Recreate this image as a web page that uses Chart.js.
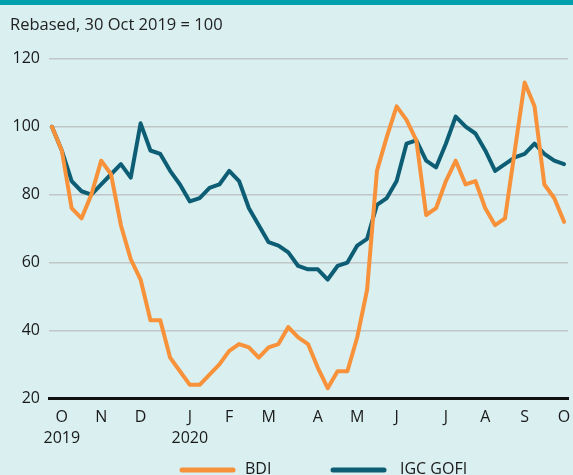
<!DOCTYPE html>
<html>
<head>
<meta charset="utf-8">
<script src="https://cdn.jsdelivr.net/npm/chart.js@4/dist/chart.umd.min.js"></script>
<style>
  html, body { margin: 0; padding: 0; background: #d9eff0; }
  #wrap { width: 573px; height: 470px; border-top: 5px solid #00a0ae; position: relative; }
</style>
</head>
<body>
<div id="wrap"><canvas id="myChart"></canvas></div>
<script>
// weekly readings, 30 Oct 2019 = 100 (week 0) to end Oct 2020 (week 52)
const bdi = [100, 93, 76, 73, 80, 90, 86, 71, 61, 55, 43, 43, 32, 28, 24, 24, 27, 30, 34, 36,
  35, 32, 35, 36, 41, 38, 36, 29, 23, 28, 28, 38, 52, 87, 97, 106, 102, 96, 74, 76,
  84, 90, 83, 84, 76, 71, 73, 93, 113, 106, 83, 79, 72];
const igcGofi = [100, 93, 84, 81, 80, 83, 86, 89, 85, 101, 93, 92, 87, 83, 78, 79, 82, 83, 87, 84,
  76, 71, 66, 65, 63, 59, 58, 58, 55, 59, 60, 65, 67, 77, 79, 84, 95, 96, 90, 88,
  95, 103, 100, 98, 93, 87, 89, 91, 92, 95, 92, 90, 89];
const seriesNames = ['BDI', 'IGC GOFI'];

// month ticks: week index where each month label sits
const monthWeeks = [1, 5, 9, 14, 18, 22, 27, 31, 35, 40, 44, 48, 52];
const monthLabels = [['O', '2019'], 'N', 'D', ['J', '2020'], 'F', 'M', 'A', 'M', 'J', 'J', 'A', 'S', 'O'];
const yTicks = [20, 40, 60, 80, 100, 120];

const ORANGE = '#f7923a';
const BLUE = '#0d5e75';
const FONT = "'Open Sans', sans-serif";

const toPoints = arr => arr.map((v, i) => ({x: i, y: v}));

// legend drawn under the axis labels
const bottomLegend = {
  id: 'bottomLegend',
  afterDraw(chart) {
    const ctx = chart.ctx;
    const items = [{x: 182, tx: 245}, {x: 333, tx: 400}];
    ctx.save();
    chart.data.datasets.forEach((ds, i) => {
      const it = items[i];
      ctx.strokeStyle = ds.borderColor;
      ctx.lineWidth = 5;
      ctx.lineCap = 'round';
      ctx.beginPath();
      ctx.moveTo(it.x, 465);
      ctx.lineTo(it.x + 51, 465);
      ctx.stroke();
      ctx.fillStyle = '#1a1a1a';
      ctx.font = '16px ' + FONT;
      ctx.textBaseline = 'middle';
      ctx.fillText(ds.label, it.tx, 464);
    });
    ctx.restore();
  }
};

const ctxt = document.getElementById('myChart').getContext('2d');

const myChart = new Chart(ctxt, {
  type: 'line',
  data: {
    datasets: [
      {label: seriesNames[0], data: toPoints(bdi), borderColor: ORANGE, borderWidth: 4},
      {label: seriesNames[1], data: toPoints(igcGofi), borderColor: BLUE, borderWidth: 4}
    ]
  },
  options: {
    responsive: true,
    maintainAspectRatio: false,
    animation: false,
    layout: {padding: {left: 10, right: 5, top: 0, bottom: 17}},
    elements: {
      point: {radius: 0},
      line: {tension: 0, borderJoinStyle: 'round', borderCapStyle: 'round'}
    },
    plugins: {
      legend: {display: false},
      tooltip: {enabled: false},
      title: {
        display: true,
        text: 'Rebased, 30 Oct 2019 = 100',
        align: 'start',
        color: '#222',
        font: {family: FONT, size: 16.5, weight: 'normal'},
        padding: {top: 10, bottom: 24}
      }
    },
    scales: {
      x: {
        type: 'linear',
        min: -0.3,
        max: 52.4,
        grid: {display: false, drawTicks: false},
        border: {display: true, color: '#111', width: 3},
        afterBuildTicks: axis => { axis.ticks = monthWeeks.map(v => ({value: v})); },
        afterFit: axis => { axis.paddingLeft = 0; axis.paddingRight = 0; },
        ticks: {
          autoSkip: false,
          maxRotation: 0,
          padding: 9,
          color: '#1a1a1a',
          font: {family: FONT, size: 16, lineHeight: 1.3},
          callback: (value, i) => monthLabels[i]
        }
      },
      y: {
        min: 20,
        max: 120,
        afterBuildTicks: axis => { axis.ticks = yTicks.map(v => ({value: v})); },
        afterFit: axis => { axis.width = 39; },
        grid: {color: '#c2c6c6', lineWidth: 1.5, drawTicks: false},
        border: {display: false},
        ticks: {
          padding: 9,
          color: '#1a1a1a',
          font: {family: FONT, size: 16}
        }
      }
    }
  },
  plugins: [bottomLegend]
});
</script>
</body>
</html>
